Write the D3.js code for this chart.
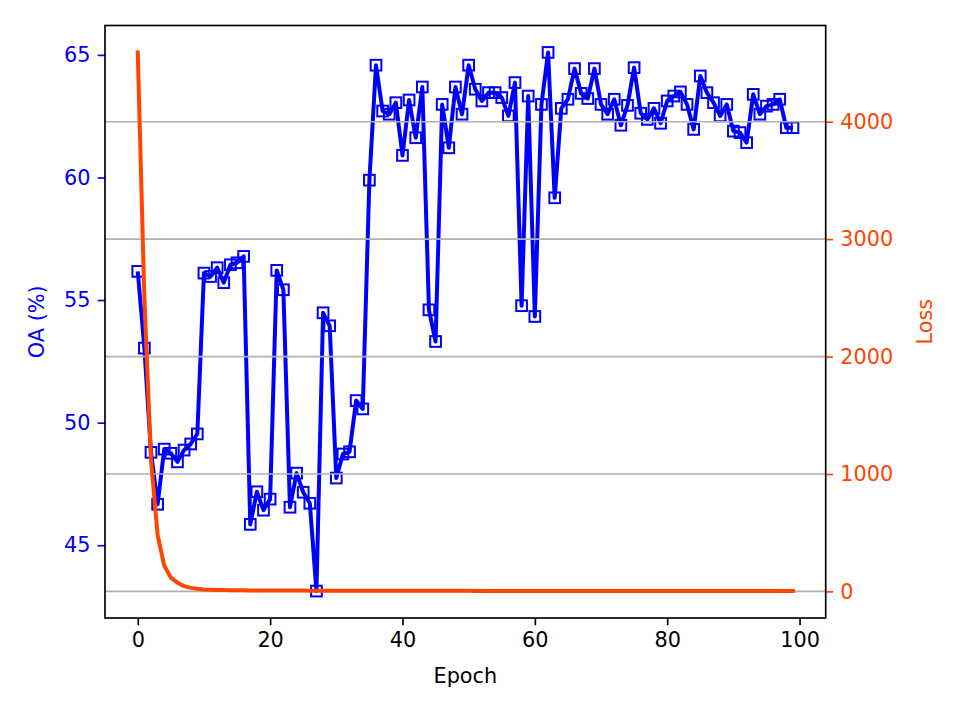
<!DOCTYPE html>
<html>
<head>
<meta charset="utf-8">
<script src="https://cdn.jsdelivr.net/npm/d3@7"></script>
<style>
  html, body { margin: 0; padding: 0; background: #fff; }
  svg text { font-family: "DejaVu Sans", sans-serif; }
</style>
</head>
<body>
<svg id="chart"></svg>
<script>
// Overall accuracy per epoch (%)
const oa = [
  56.17, 53.04, 48.79, 46.67, 48.92, 48.75, 48.40, 48.88, 49.13, 49.54,
  56.10, 55.96, 56.32, 55.71, 56.44, 56.52, 56.78, 45.85, 47.18, 46.43,
  46.88, 56.21, 55.42, 46.55, 47.94, 47.16, 46.71, 43.13, 54.48, 53.95,
  47.74, 48.72, 48.81, 50.90, 50.56, 59.89, 64.58, 62.71, 62.58, 63.05,
  60.90, 63.16, 61.62, 63.69, 54.60, 53.31, 62.98, 61.21, 63.69, 62.58,
  64.58, 63.60, 63.12, 63.46, 63.46, 63.26, 62.51, 63.87, 54.77, 63.32,
  54.33, 62.98, 65.10, 59.17, 62.82, 63.19, 64.44, 63.43, 63.22, 64.44,
  62.98, 62.58, 63.19, 62.13, 62.94, 64.48, 62.62, 62.37, 62.82, 62.21,
  63.12, 63.32, 63.49, 62.98, 61.96, 64.14, 63.46, 63.05, 62.51, 62.98,
  61.89, 61.83, 61.42, 63.39, 62.58, 62.91, 62.98, 63.19, 62.03, 62.03
];

// Training loss per epoch
const loss = [
  4590, 2500, 1120, 480, 220, 117, 74, 45, 30, 22,
  17, 14, 12, 11, 10, 9.5, 9, 8.6, 8.2, 7.9,
  7.6, 7.4, 7.2, 7.0, 6.8, 6.6, 6.5, 6.3, 6.2, 6.1,
  6.0, 5.9, 5.8, 5.7, 5.6, 5.5, 5.4, 5.3, 5.3, 5.2,
  5.1, 5.0, 5.0, 4.9, 4.8, 4.8, 4.7, 4.6, 4.6, 4.5,
  4.5, 4.4, 4.4, 4.3, 4.3, 4.2, 4.2, 4.1, 4.1, 4.0,
  4.0, 3.9, 3.9, 3.9, 3.8, 3.8, 3.7, 3.7, 3.7, 3.6,
  3.6, 3.6, 3.5, 3.5, 3.5, 3.4, 3.4, 3.4, 3.3, 3.3,
  3.3, 3.2, 3.2, 3.2, 3.2, 3.1, 3.1, 3.1, 3.0, 3.0,
  3.0, 3.0, 2.9, 2.9, 2.9, 2.9, 2.8, 2.8, 2.8, 2.8
];

const epochs = d3.range(oa.length);

const xTicks = [0, 20, 40, 60, 80, 100];
const oaTicks = [45, 50, 55, 60, 65];
const lossTicks = [0, 1000, 2000, 3000, 4000];

const width = 961;
const height = 719;
const plot = { left: 105, right: 825.7, top: 25.5, bottom: 618 };

const blue = '#0000ff';
const orange = '#ff4500';
const fontSize = 20.8;
const tickLen = 7.3;

// matplotlib-like 5% margins
function padded(values) {
  const [lo, hi] = d3.extent(values);
  const m = (hi - lo) * 0.05;
  return [lo - m, hi + m];
}

const svg = d3.select('#chart')
  .attr('width', width)
  .attr('height', height);

const x = d3.scaleLinear()
  .domain(padded(epochs))
  .range([plot.left, plot.right]);

const yOA = d3.scaleLinear()
  .domain(padded(oa))
  .range([plot.bottom, plot.top]);

const yLoss = d3.scaleLinear()
  .domain(padded(loss))
  .range([plot.bottom, plot.top]);

svg.append('clipPath').attr('id', 'plot-clip')
  .append('rect')
  .attr('x', plot.left)
  .attr('y', plot.top)
  .attr('width', plot.right - plot.left)
  .attr('height', plot.bottom - plot.top);

const body = svg.append('g').attr('clip-path', 'url(#plot-clip)');

// OA line with hollow square markers
const oaLine = d3.line()
  .x((d, i) => x(epochs[i]))
  .y(d => yOA(d));

body.append('path')
  .datum(oa)
  .attr('d', oaLine)
  .attr('fill', 'none')
  .attr('stroke', blue)
  .attr('stroke-width', 4)
  .attr('stroke-linejoin', 'round');

const ms = 10.7;
body.selectAll('.marker')
  .data(oa)
  .enter()
  .append('rect')
  .attr('class', 'marker')
  .attr('x', (d, i) => x(epochs[i]) - ms / 2)
  .attr('y', d => yOA(d) - ms / 2)
  .attr('width', ms)
  .attr('height', ms)
  .attr('fill', 'none')
  .attr('stroke', blue)
  .attr('stroke-width', 2);

// grid from the loss axis (drawn above the OA line, like twinx)
body.selectAll('.grid')
  .data(lossTicks)
  .enter()
  .append('line')
  .attr('x1', plot.left)
  .attr('x2', plot.right)
  .attr('y1', d => yLoss(d))
  .attr('y2', d => yLoss(d))
  .attr('stroke', '#b0b0b0')
  .attr('stroke-width', 1.67);

// loss line
const lossLine = d3.line()
  .x((d, i) => x(epochs[i]))
  .y(d => yLoss(d));

body.append('path')
  .datum(loss)
  .attr('d', lossLine)
  .attr('fill', 'none')
  .attr('stroke', orange)
  .attr('stroke-width', 4)
  .attr('stroke-linejoin', 'round')
  .attr('stroke-linecap', 'square');

// axes
function styleAxis(g, color) {
  g.select('.domain').remove();
  g.selectAll('.tick line').attr('stroke', color).attr('stroke-width', 1.67);
  g.selectAll('.tick text')
    .attr('fill', color)
    .style('font-size', fontSize + 'px')
    .style('font-family', '"DejaVu Sans", sans-serif');
}

svg.append('g')
  .attr('transform', `translate(0,${plot.bottom})`)
  .call(d3.axisBottom(x).tickValues(xTicks).tickFormat(d3.format('d')).tickSizeOuter(0).tickSize(tickLen).tickPadding(tickLen))
  .call(g => styleAxis(g, '#000'));

svg.append('g')
  .attr('transform', `translate(${plot.left},0)`)
  .call(d3.axisLeft(yOA).tickValues(oaTicks).tickFormat(d3.format('d')).tickSizeOuter(0).tickSize(tickLen).tickPadding(tickLen))
  .call(g => styleAxis(g, blue));

svg.append('g')
  .attr('transform', `translate(${plot.right},0)`)
  .call(d3.axisRight(yLoss).tickValues(lossTicks).tickFormat(d3.format('d')).tickSizeOuter(0).tickSize(tickLen).tickPadding(tickLen))
  .call(g => styleAxis(g, orange));

// frame
svg.append('rect')
  .attr('x', plot.left)
  .attr('y', plot.top)
  .attr('width', plot.right - plot.left)
  .attr('height', plot.bottom - plot.top)
  .attr('fill', 'none')
  .attr('stroke', '#000')
  .attr('stroke-width', 1.67);

// axis labels
svg.append('text')
  .attr('x', (plot.left + plot.right) / 2)
  .attr('y', 683)
  .attr('text-anchor', 'middle')
  .style('font-size', fontSize + 'px')
  .text('Epoch');

svg.append('text')
  .attr('transform', `translate(44,${(plot.top + plot.bottom) / 2}) rotate(-90)`)
  .attr('text-anchor', 'middle')
  .attr('fill', blue)
  .style('font-size', fontSize + 'px')
  .text('OA (%)');

svg.append('text')
  .attr('transform', `translate(932,${(plot.top + plot.bottom) / 2}) rotate(-90)`)
  .attr('text-anchor', 'middle')
  .attr('fill', orange)
  .style('font-size', fontSize + 'px')
  .text('Loss');
</script>
</body>
</html>
